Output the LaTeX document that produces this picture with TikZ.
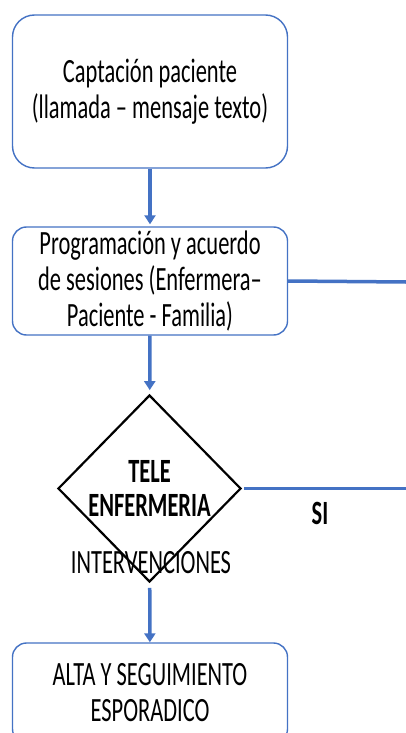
\documentclass[tikz,border=0pt]{standalone}
\usepackage{fontspec}
\setmainfont{Carlito}[FakeStretch=0.66]
\usepackage{tikz}
\usetikzlibrary{shapes.geometric, arrows.meta}
\definecolor{officeblue}{HTML}{4472C4}
\tikzset{
  stepbox/.style={draw=officeblue, line width=1.4pt, rounded corners=14pt,
    minimum width=275pt, align=center, inner sep=0pt},
  flow/.style={draw=officeblue, line width=3.5pt},
  flowarrow/.style={flow, -{Triangle[width=11pt,length=9pt]}},
  decision/.style={diamond, draw=black, line width=2.2pt, minimum width=183pt,
    minimum height=187pt, inner sep=0pt, align=center}
}

\begin{document}
\begin{tikzpicture}[x=1pt, y=-1pt, font=\fontsize{34}{36}\selectfont]
      \fill[white] (0,0) rectangle (406,733);
      \useasboundingbox (0,0) rectangle (406,733);
      \node[stepbox, rounded corners=22pt, minimum height=153pt] (captacion) at (150,91.5)
      {Captación paciente \\ (llamada -- mensaje texto)};
      \node[stepbox, minimum height=108pt] (programacion) at (150,281)
      {Programación y acuerdo \\ de sesiones (Enfermera--\\ Paciente - Familia)};
      \node[decision] (tele) at (149.5,488.5)
      {\bfseries TELE \\[-2pt] \bfseries ENFERMERIA};
      \node (intervenciones) at (151,563) {INTERVENCIONES};
      \node[stepbox, minimum height=100pt] (alta) at (150,693)
      {ALTA Y SEGUIMIENTO \\ ESPORADICO};
      \node[font=\fontsize{34}{36}\selectfont\bfseries] (si) at (320,513) {SI};
      \coordinate (derechaA) at (406,282);
      \coordinate (derechaB) at (406,488.5);
      \draw[flowarrow, shorten >=2pt] (captacion) -- (programacion);
      \draw[flowarrow, shorten >=4pt] (programacion) -- (tele);
      \draw[flowarrow, shorten <=5pt] (tele) -- (alta);
      \draw[flow] (programacion.east) -- (derechaA);
      \draw[flow, shorten <=2pt] (tele.east) -- (derechaB);
    \end{tikzpicture}
\end{document}
